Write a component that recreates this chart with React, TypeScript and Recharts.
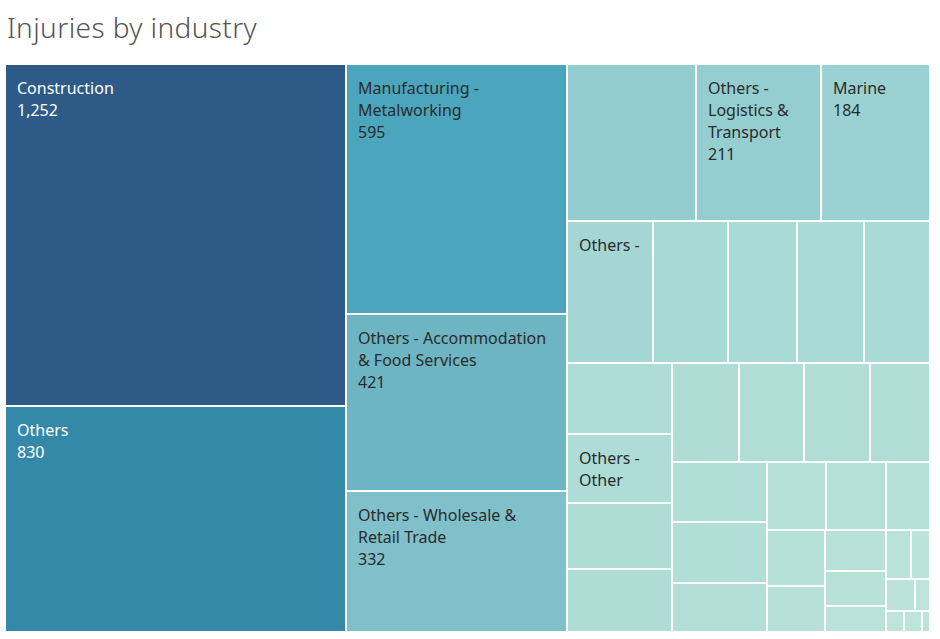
import { Treemap } from "recharts";

// Industries in layout order (blank = label not shown in the chart)
const industries = [
  "Construction",
  "Others",
  "Manufacturing - Metalworking",
  "Others - Accommodation & Food Services",
  "Others - Wholesale & Retail Trade",
  "",
  "Others - Logistics & Transport",
  "Marine",
  "Others -",
  "", "", "", "",
  "",
  "Others - Other",
  "", "",
  "", "", "", "",
  "", "", "",
  "", "", "",
  "", "",
  "", "", "",
  "", "",
  "", "",
  "", "", "",
];

const injuries = [
  1252, 830, 595, 421, 332,
  217, 211, 184,
  131, 114, 105, 103, 100,
  80, 78, 74, 73,
  71, 69, 70, 65,
  61, 62, 50,
  43, 44, 33,
  35, 29,
  27, 23, 17,
  13, 10,
  10, 5,
  4, 4, 3,
];

// labels whose value line is cut off in the original
const nameOnly = new Set(["Others -"]);

const data = industries.map((name, i) => ({ name, size: injuries[i] }));

const minV = Math.min(...injuries);
const maxV = Math.max(...injuries);

const stops: [number, string][] = [
  [0, "#bce4d8"],
  [0.086, "#a8d9d5"],
  [0.172, "#94cdd0"],
  [0.263, "#7fc0ca"],
  [0.335, "#6db5c2"],
  [0.474, "#4ba5bd"],
  [0.662, "#3589a8"],
  [1, "#2d5a86"],
];

function hex(c: string) {
  return [1, 3, 5].map((i) => parseInt(c.slice(i, i + 2), 16));
}

function colorFor(v: number) {
  const t = (v - minV) / (maxV - minV);
  for (let i = 1; i < stops.length; i++) {
    if (t <= stops[i][0]) {
      const [t0, c0] = stops[i - 1];
      const [t1, c1] = stops[i];
      const f = (t - t0) / (t1 - t0);
      const a = hex(c0), b = hex(c1);
      const m = a.map((x, k) => Math.round(x + (b[k] - x) * f));
      return `rgb(${m[0]},${m[1]},${m[2]})`;
    }
  }
  return stops[stops.length - 1][1];
}

const FONT = "'Noto Sans', sans-serif";
let ctx: CanvasRenderingContext2D | null = null;
function measure(s: string) {
  if (!ctx) {
    ctx = document.createElement("canvas").getContext("2d");
    if (ctx) ctx.font = `16px 'Noto Sans'`;
  }
  return ctx ? ctx.measureText(s).width : s.length * 8.5;
}

function wrap(text: string, maxW: number) {
  const words = text.split(" ");
  const lines: string[] = [];
  let cur = "";
  for (const w of words) {
    const next = cur ? cur + " " + w : w;
    if (measure(next) <= maxW || !cur) cur = next;
    else {
      lines.push(cur);
      cur = w;
    }
  }
  if (cur) lines.push(cur);
  return lines;
}

function CellContent(props: any) {
  const { x, y, width, height, depth, name, value } = props;
  if (depth !== 1) return null;
  const fill = colorFor(value);
  const textColor = value >= 700 ? "#ffffff" : "#2b2b2b";
  let lines: string[] = [];
  if (name) {
    lines = wrap(name, width - 24);
    if (!nameOnly.has(name)) lines.push(value.toLocaleString("en-US"));
  }
  const shown = lines.filter((_, i) => 30 + 22 * i + 5 <= height);
  return (
    <g>
      <rect x={x} y={y} width={width} height={height} fill={fill} stroke="#fff" strokeWidth={2} />
      {shown.map((l, i) => (
        <text key={i} x={x + 12} y={y + 30 + 22 * i} fill={textColor} fontSize={16} fontFamily={FONT}>
          {l}
        </text>
      ))}
    </g>
  );
}

export default function App() {
  return (
    <div style={{ position: "absolute", left: 0, top: 0, width: 940, height: 639, background: "#fff" }}>
      <svg width={940} height={60} style={{ position: "absolute", left: 0, top: 0 }}>
        <text x={7} y={38} fontSize={28} fontWeight={300} letterSpacing={0.4} fill="#555" fontFamily={FONT}>
          Injuries by industry
        </text>
      </svg>
      <div style={{ position: "absolute", left: 5, top: 64 }}>
        <Treemap
          width={925}
          height={568}
          data={data}
          dataKey="size"
          nameKey="name"
          isAnimationActive={false}
          content={<CellContent />}
        />
      </div>
    </div>
  );
}
